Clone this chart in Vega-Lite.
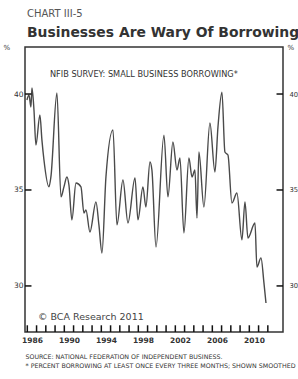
{
  "$schema": "https://vega.github.io/schema/vega-lite/v6.json",
  "width": 258,
  "height": 285,
  "autosize": {"type": "none"},
  "padding": {"left": 25, "top": 47, "right": 15, "bottom": 47},
  "background": "white",
  "config": {
    "font": "DejaVu Sans",
    "view": {"stroke": "#333", "strokeWidth": 1.5},
    "axis": {"labelColor": "#333", "ticks": false, "titleColor": "#333", "grid": false, "domain": false}
  },
  "title": {
    "text": "CHART III-5",
    "subtitle": "Businesses Are Wary Of Borrowing",
    "anchor": "start",
    "frame": "group",
    "dx": 2,
    "offset": 3,
    "fontSize": 10,
    "fontWeight": "normal",
    "color": "#555",
    "subtitleFontSize": 13.9,
    "subtitleFontWeight": "bold",
    "subtitleColor": "#333",
    "subtitlePadding": 7
  },
  "datasets": {
    "series": [
      {"year": 1985.96, "value": 39.69}, {"year": 1986.18, "value": 39.95}, {"year": 1986.39, "value": 39.32},
      {"year": 1986.50, "value": 40.31}, {"year": 1986.72, "value": 39.17}, {"year": 1986.93, "value": 37.34},
      {"year": 1987.36, "value": 38.91}, {"year": 1987.58, "value": 37.60}, {"year": 1987.80, "value": 36.56},
      {"year": 1988.34, "value": 35.16}, {"year": 1988.55, "value": 35.68}, {"year": 1989.20, "value": 40.05},
      {"year": 1989.64, "value": 34.64}, {"year": 1989.96, "value": 35.16}, {"year": 1990.28, "value": 35.68},
      {"year": 1990.50, "value": 35.26}, {"year": 1990.82, "value": 33.44}, {"year": 1991.26, "value": 35.36},
      {"year": 1991.80, "value": 35.16}, {"year": 1992.12, "value": 33.80}, {"year": 1992.34, "value": 33.96},
      {"year": 1992.77, "value": 32.81}, {"year": 1993.42, "value": 34.38}, {"year": 1993.74, "value": 33.18},
      {"year": 1994.07, "value": 31.72}, {"year": 1994.50, "value": 35.68}, {"year": 1995.26, "value": 38.13},
      {"year": 1995.69, "value": 33.18}, {"year": 1996.34, "value": 35.52}, {"year": 1996.88, "value": 33.28},
      {"year": 1997.64, "value": 35.63}, {"year": 1997.96, "value": 33.44}, {"year": 1998.50, "value": 35.16},
      {"year": 1998.82, "value": 34.11}, {"year": 1999.26, "value": 36.46}, {"year": 1999.47, "value": 36.04},
      {"year": 1999.91, "value": 32.03}, {"year": 2000.77, "value": 37.86}, {"year": 2001.20, "value": 34.64},
      {"year": 2001.74, "value": 37.50}, {"year": 2002.18, "value": 36.04}, {"year": 2002.50, "value": 36.67},
      {"year": 2002.93, "value": 32.76}, {"year": 2003.47, "value": 36.67}, {"year": 2003.80, "value": 35.68},
      {"year": 2004.12, "value": 36.04}, {"year": 2004.34, "value": 33.54}, {"year": 2004.55, "value": 36.98},
      {"year": 2005.09, "value": 34.11}, {"year": 2005.74, "value": 38.49}, {"year": 2006.28, "value": 35.94},
      {"year": 2006.61, "value": 38.28}, {"year": 2007.04, "value": 40.10}, {"year": 2007.36, "value": 36.98},
      {"year": 2007.69, "value": 36.82}, {"year": 2008.12, "value": 34.32}, {"year": 2008.66, "value": 34.84},
      {"year": 2009.20, "value": 32.40}, {"year": 2009.53, "value": 34.38}, {"year": 2009.85, "value": 32.50},
      {"year": 2010.61, "value": 33.28}, {"year": 2010.82, "value": 30.99}, {"year": 2011.26, "value": 31.46},
      {"year": 2011.58, "value": 30.16}, {"year": 2011.80, "value": 29.11}
    ],
    "head": [
      {"year": 1998.6, "value": 41.0, "label": "NFIB SURVEY: SMALL BUSINESS BORROWING*"}
    ],
    "credit": [
      {"year": 1987.15, "value": 28.4, "label": "© BCA Research 2011"}
    ],
    "years": [
      {"year": 1986}, {"year": 1987}, {"year": 1988}, {"year": 1989}, {"year": 1990}, {"year": 1991}, {"year": 1992},
      {"year": 1993}, {"year": 1994}, {"year": 1995}, {"year": 1996}, {"year": 1997}, {"year": 1998}, {"year": 1999},
      {"year": 2000}, {"year": 2001}, {"year": 2002}, {"year": 2003}, {"year": 2004}, {"year": 2005}, {"year": 2006},
      {"year": 2007}, {"year": 2008}, {"year": 2009}, {"year": 2010}, {"year": 2011}, {"year": 2012}
    ],
    "levels": [{"value": 30}, {"value": 35}, {"value": 40}]
  },
  "layer": [
    {
      "data": {"name": "series"},
      "mark": {"type": "line", "color": "#4a4a4a", "strokeWidth": 1.4, "interpolate": "monotone"},
      "encoding": {
        "x": {
          "field": "year", "type": "quantitative",
          "scale": {"domain": [1985.75, 2013.64], "nice": false, "zero": false},
          "axis": {
            "orient": "bottom",
            "values": [1986,1987,1988,1989,1990,1991,1992,1993,1994,1995,1996,1997,1998,1999,2000,2001,2002,2003,2004,2005,2006,2007,2008,2009,2010,2011,2012],
            "format": "d",
            "labelExpr": "datum.value % 4 == 2 ? datum.label : ''",
            "labelOffset": 4.6,
            "labelPadding": 4,
            "labelFontSize": 7.5,
            "labelFontWeight": "bold",
            "title": ["SOURCE: NATIONAL FEDERATION OF INDEPENDENT BUSINESS.", "* PERCENT BORROWING AT LEAST ONCE EVERY THREE MONTHS; SHOWN SMOOTHED"],
            "titleAnchor": "start",
            "titleAlign": "left",
            "titleFontSize": 6.3,
            "titleFontWeight": "normal",
            "titleLineHeight": 9,
            "titlePadding": 10
          }
        },
        "y": {
          "field": "value", "type": "quantitative",
          "scale": {"domain": [27.6, 42.45], "nice": false, "zero": false},
          "axis": {
            "orient": "left",
            "values": [30, 35, 40],
            "labelPadding": 2,
            "labelFontSize": 7.5,
            "title": "%",
            "titleAngle": 0,
            "titleX": -22,
            "titleY": 0,
            "titleAlign": "left",
            "titleBaseline": "middle",
            "titleFontSize": 7,
            "titleFontWeight": "normal"
          }
        }
      }
    },
    {
      "data": {"name": "head"},
      "mark": {"type": "text", "color": "#333", "align": "center", "baseline": "middle", "fontSize": 8.2},
      "encoding": {
        "x": {
          "field": "year", "type": "quantitative",
          "scale": {"domain": [1985.75, 2013.64], "nice": false, "zero": false},
          "axis": {"orient": "top", "labels": false, "ticks": false, "domain": false, "title": null}
        },
        "y": {
          "field": "value", "type": "quantitative",
          "scale": {"domain": [27.6, 42.45], "nice": false, "zero": false},
          "axis": {
            "orient": "right",
            "values": [30, 35, 40],
            "labelPadding": 6,
            "labelFontSize": 6.8,
            "title": "%",
            "titleAngle": 0,
            "titleX": 4,
            "titleY": 0,
            "titleAlign": "left",
            "titleBaseline": "middle",
            "titleFontSize": 7,
            "titleFontWeight": "normal"
          }
        },
        "text": {"field": "label"}
      }
    },
    {
      "data": {"name": "credit"},
      "mark": {"type": "text", "color": "#444", "align": "left", "baseline": "middle", "fontSize": 9.5},
      "encoding": {
        "x": {
          "field": "year", "type": "quantitative",
          "scale": {"domain": [1985.75, 2013.64], "nice": false, "zero": false},
          "axis": null
        },
        "y": {
          "field": "value", "type": "quantitative",
          "scale": {"domain": [27.6, 42.45], "nice": false, "zero": false},
          "axis": null
        },
        "text": {"field": "label"}
      }
    },
    {
      "data": {"name": "years"},
      "mark": {"type": "rule", "color": "#111", "strokeWidth": 1.5},
      "encoding": {
        "x": {
          "field": "year", "type": "quantitative",
          "scale": {"domain": [1985.75, 2013.64], "nice": false, "zero": false},
          "axis": null
        },
        "y": {
          "datum": 27.6, "type": "quantitative",
          "scale": {"domain": [27.6, 42.45], "nice": false, "zero": false},
          "axis": null
        },
        "y2": {"datum": 27.95}
      }
    },
    {
      "data": {"name": "levels"},
      "mark": {"type": "rule", "color": "#111", "strokeWidth": 1.5},
      "encoding": {
        "x": {
          "datum": 1985.75, "type": "quantitative",
          "scale": {"domain": [1985.75, 2013.64], "nice": false, "zero": false},
          "axis": null
        },
        "x2": {"datum": 1986.45},
        "y": {
          "field": "value", "type": "quantitative",
          "scale": {"domain": [27.6, 42.45], "nice": false, "zero": false},
          "axis": null
        }
      }
    },
    {
      "data": {"name": "levels"},
      "mark": {"type": "rule", "color": "#111", "strokeWidth": 1.5},
      "encoding": {
        "x": {
          "datum": 2013.64, "type": "quantitative",
          "scale": {"domain": [1985.75, 2013.64], "nice": false, "zero": false},
          "axis": null
        },
        "x2": {"datum": 2012.94},
        "y": {
          "field": "value", "type": "quantitative",
          "scale": {"domain": [27.6, 42.45], "nice": false, "zero": false},
          "axis": null
        }
      }
    }
  ]
}
